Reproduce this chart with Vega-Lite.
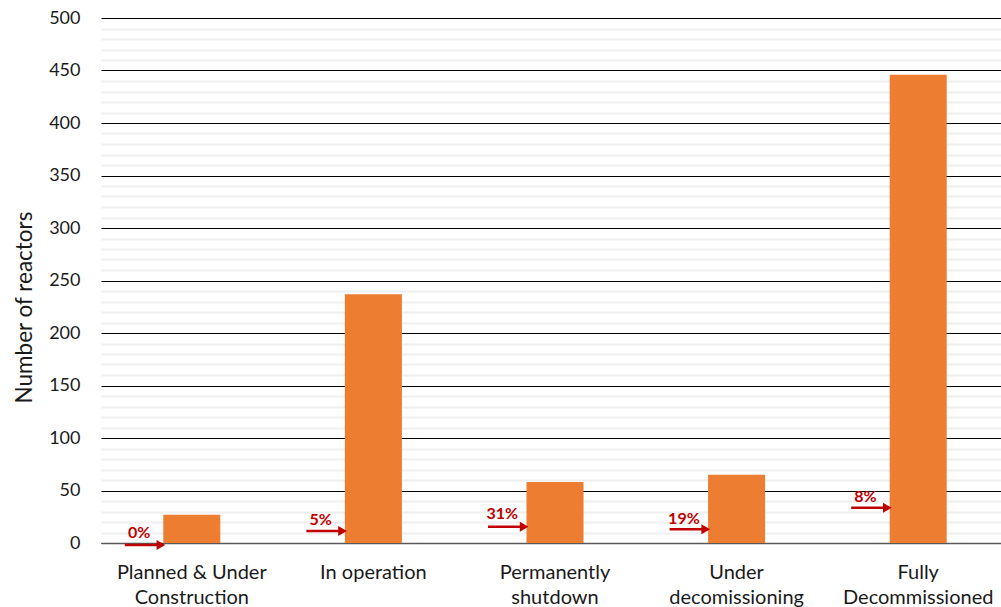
{
  "$schema": "https://vega.github.io/schema/vega-lite/v6.json",
  "width": 908,
  "height": 525,
  "autosize": {"type": "none"},
  "padding": {"left": 101, "top": 18, "right": 0, "bottom": 64},
  "background": "white",
  "config": {"view": {"stroke": null}, "font": "Lato"},
  "datasets": {
    "bars": [
      {"status": "Planned & Under Construction", "reactors": 27},
      {"status": "In operation", "reactors": 237},
      {"status": "Permanently shutdown", "reactors": 58},
      {"status": "Under decomissioning", "reactors": 65},
      {"status": "Fully Decommissioned", "reactors": 446}
    ],
    "notes": [
      {"status": "Planned & Under Construction", "pct": "0%", "arrow": -2, "label": 9.5},
      {"status": "In operation", "pct": "5%", "arrow": 11.5, "label": 22},
      {"status": "Permanently shutdown", "pct": "31%", "arrow": 15.5, "label": 27.5},
      {"status": "Under decomissioning", "pct": "19%", "arrow": 13, "label": 23},
      {"status": "Fully Decommissioned", "pct": "8%", "arrow": 33.5, "label": 44}
    ]
  },
  "resolve": {"axis": {"y": "independent"}},
  "layer": [
    {
      "data": {"name": "bars"},
      "mark": {"type": "bar", "color": "#ED7D31", "width": {"band": 0.314}},
      "encoding": {
        "x": {
          "field": "status", "type": "nominal", "sort": null,
          "scale": {"paddingInner": 0, "paddingOuter": 0},
          "axis": {
            "title": null, "labelAngle": 0, "ticks": false,
            "domainColor": "#595959", "domainWidth": 1.5,
            "labelFontSize": 20, "labelColor": "#1a1a1a", "labelPadding": 19,
            "labelLineHeight": 25, "labelLimit": 300, "labelFont": "Lato",
            "labelExpr": "datum.value == 'Planned & Under Construction' ? ['Planned & Under', 'Construction'] : datum.value == 'Permanently shutdown' ? ['Permanently', 'shutdown'] : datum.value == 'Under decomissioning' ? ['Under', 'decomissioning'] : datum.value == 'Fully Decommissioned' ? ['Fully', 'Decommissioned'] : datum.value"
          }
        },
        "y": {
          "field": "reactors", "type": "quantitative",
          "scale": {"domain": [0, 500], "nice": false},
          "axis": {
            "orient": "left",
            "values": [0, 50, 100, 150, 200, 250, 300, 350, 400, 450, 500],
            "grid": true, "gridColor": "#000000", "gridWidth": 1,
            "domain": false, "ticks": false,
            "labelFontSize": 18, "labelColor": "#1a1a1a", "labelPadding": 21,
            "title": "Number of reactors", "titleFontSize": 22.5, "titleFontWeight": "normal",
            "titleColor": "#1a1a1a", "titlePadding": 12, "titleY": 289, "titleAlign": "center"
          }
        }
      }
    },
    {
      "data": {"name": "notes"},
      "mark": {"type": "rule", "color": "#C00000", "strokeWidth": 2.5},
      "encoding": {
        "x": {"field": "status", "type": "nominal", "sort": null, "bandPosition": 0.131},
        "x2": {"field": "status", "bandPosition": 0.33},
        "y": {"field": "arrow", "type": "quantitative", "axis": null}
      }
    },
    {
      "data": {"name": "notes"},
      "mark": {"type": "point", "shape": "triangle-right", "filled": true, "color": "#C00000", "size": 100, "opacity": 1},
      "encoding": {
        "x": {"field": "status", "type": "nominal", "sort": null, "bandPosition": 0.33},
        "y": {"field": "arrow", "type": "quantitative", "axis": null}
      }
    },
    {
      "data": {"name": "notes"},
      "mark": {"type": "text", "color": "#C00000", "fontWeight": "bold", "fontSize": 16, "baseline": "middle", "align": "center"},
      "encoding": {
        "x": {"field": "status", "type": "nominal", "sort": null, "bandPosition": 0.21},
        "y": {
          "field": "label", "type": "quantitative",
          "axis": {
            "orient": "left",
            "values": [10, 20, 30, 40, 60, 70, 80, 90, 110, 120, 130, 140, 160, 170, 180, 190, 210, 220, 230, 240, 260, 270, 280, 290, 310, 320, 330, 340, 360, 370, 380, 390, 410, 420, 430, 440, 460, 470, 480, 490],
            "grid": true, "gridColor": "#EFEFEF", "gridWidth": 2,
            "labels": false, "ticks": false, "domain": false, "title": null
          }
        },
        "text": {"field": "pct", "type": "nominal"}
      }
    }
  ]
}
